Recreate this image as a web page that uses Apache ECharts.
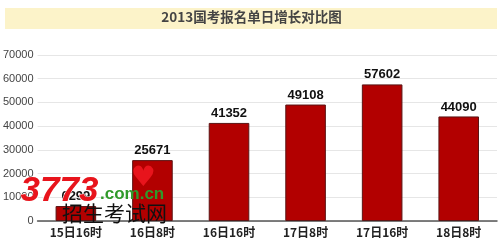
<!DOCTYPE html>
<html><head><meta charset="utf-8">
<script src="https://cdn.jsdelivr.net/npm/echarts@6/dist/echarts.min.js"></script>
<style>html,body{margin:0;padding:0;background:#fff}#c{width:503px;height:240px}</style>
</head><body><div id="c"></div>
<script>
const titleText = '2013国考报名单日增长对比图';
const categories = ['15日16时','16日8时','16日16时','17日8时','17日16时','18日8时'];
const values = [6299, 25671, 41352, 49108, 57602, 44090];
const yTicks = [0,10000,20000,30000,40000,50000,60000,70000];

const chart = echarts.init(document.getElementById('c'), null, {renderer:'canvas'});
chart.setOption({
  animation:false,
  backgroundColor:'#fff',
  graphic:[
    {type:'rect', left:5, top:8, shape:{width:492,height:21}, style:{fill:'#fcf3c9'}, z:0},
    {type:'text', left:'center', top:10, style:{text:titleText, font:'bold 13.5px "Noto Sans CJK SC", sans-serif', fill:'#444'}, z:1},
    {type:'text', left:20, top:173, style:{text:'3773', font:'italic bold 35px "Liberation Sans", Arial, sans-serif', fill:'#e8141c', stroke:'#fff', lineWidth:1}, z:100},
    {type:'text', left:100, top:186, style:{text:'.com.cn', font:'bold 17px "Liberation Sans", Arial, sans-serif', fill:'#2f9a2a'}, z:100},
    {type:'text', left:131, top:165, style:{text:'♥', font:'28px "DejaVu Sans", sans-serif', fill:'#e8141c'}, z:100},
    {type:'text', left:62, top:203, style:{text:'招生考试网', font:'21px "Noto Sans CJK SC", serif', fill:'#111'}, z:100}
  ],
  grid:{left:36, right:6, top:55, bottom:19, containLabel:false},
  xAxis:{
    type:'category', data:categories,
    axisLine:{show:true, lineStyle:{color:'#555', width:1.5}},
    axisTick:{show:false},
    axisLabel:{color:'#222', fontWeight:'bold', fontSize:12, margin:5, fontFamily:'"Noto Sans CJK SC", sans-serif'}
  },
  yAxis:{
    type:'value', min:0, max:70000, interval:10000,
    axisLine:{show:false}, axisTick:{show:false},
    axisLabel:{color:'#444', fontSize:11, margin:4, fontFamily:'"Liberation Sans", Arial, sans-serif',
      formatter:function(v){return yTicks.indexOf(v)>=0 ? String(v) : '';}},
    splitLine:{lineStyle:{color:'#e6e6e6'}}
  },
  series:[{
    type:'bar', data:values, barWidth:'53%',
    itemStyle:{color:'#b20000', borderColor:'#5a1414', borderWidth:1},
    label:{show:true, position:'top', color:'#111', fontWeight:'bold', fontSize:13, distance:3,
      fontFamily:'"Liberation Sans", Arial, sans-serif'}
  }]
});
</script></body></html>
